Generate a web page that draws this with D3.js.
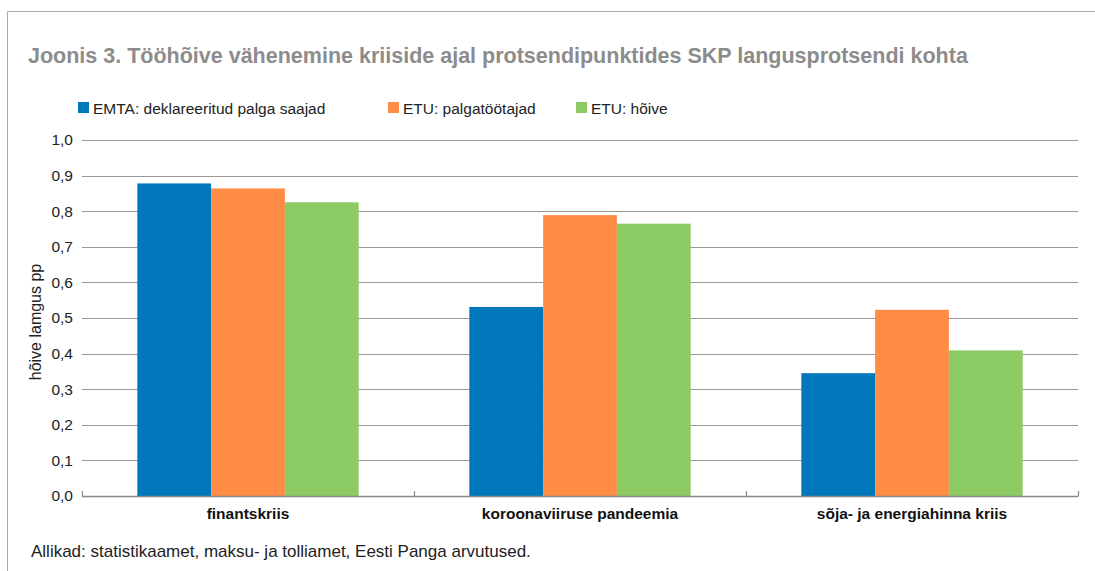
<!DOCTYPE html>
<html><head><meta charset="utf-8">
<script src="https://cdn.jsdelivr.net/npm/d3@7"></script>
<style>
body{margin:0;background:#fff;}
svg{display:block;font-family:"Liberation Sans",Arial,Helvetica,sans-serif;}
</style></head>
<body>
<script>
const categories = ["finantskriis", "koroonaviiruse pandeemia", "sõja- ja energiahinna kriis"];
const seriesNames = ["EMTA: deklareeritud palga saajad", "ETU: palgatöötajad", "ETU: hõive"];
const seriesColors = ["#0077bb", "#ff8c45", "#8ccb63"];
const emta = [0.878, 0.531, 0.345];
const etuPalga = [0.864, 0.789, 0.523];
const etuHoive = [0.825, 0.765, 0.409];
const yTicks = [0, 0.1, 0.2, 0.3, 0.4, 0.5, 0.6, 0.7, 0.8, 0.9, 1.0];
const title = "Joonis 3. Tööhõive vähenemine kriiside ajal protsendipunktides SKP langusprotsendi kohta";
const yTitle = "hõive lamgus pp";
const source = "Allikad: statistikaamet, maksu- ja tolliamet, Eesti Panga arvutused.";

const W = 1095, H = 571;
const svg = d3.select("body").append("svg").attr("width", W).attr("height", H);

// frame
svg.append("path").attr("d", `M7.5,${H}V11.5H${W}`).attr("fill", "none").attr("stroke", "#aaa").attr("stroke-width", 1);

svg.append("text").attr("x", 28).attr("y", 63).attr("fill", "#8c8c8c")
  .attr("font-size", "21.5px").attr("font-weight", "bold").text(title);

const m = {left: 82, right: 1078, top: 140, bottom: 496};
const x0 = d3.scaleBand().domain(categories).range([m.left, m.right]).paddingInner(0).paddingOuter(0);
const x1 = d3.scaleBand().domain(d3.range(3)).range([0, x0.bandwidth()]).paddingInner(0).paddingOuter(0.75);
const y = d3.scaleLinear().domain([0, 1]).range([m.bottom, m.top]);

// grid
svg.append("g").selectAll("line").data(yTicks.filter(d => d > 0)).join("line")
  .attr("x1", m.left).attr("x2", m.right)
  .attr("y1", d => Math.round(y(d)) + 0.5).attr("y2", d => Math.round(y(d)) + 0.5)
  .attr("stroke", "#999").attr("stroke-width", 1.2);

// y tick labels
svg.append("g").selectAll("text").data(yTicks).join("text")
  .attr("x", 73).attr("y", d => y(d)).attr("dy", "0.35em").attr("text-anchor", "end")
  .attr("font-size", "15.5px").attr("fill", "#222")
  .text(d => d3.format(".1f")(d).replace(".", ","));

// bars
const series = [emta, etuPalga, etuHoive];
const g = svg.append("g");
categories.forEach((c, ci) => {
  g.selectAll(null).data(series.map((s, si) => ({si, v: s[ci]}))).join("rect")
    .attr("x", d => x0(c) + x1(d.si)).attr("width", x1.bandwidth())
    .attr("y", d => y(d.v)).attr("height", d => y(0) - y(d.v))
    .attr("fill", d => seriesColors[d.si]);
});

// x axis
const ax = svg.append("g").attr("transform", `translate(0,${m.bottom})`)
  .call(d3.axisBottom(x0).tickSize(0).tickFormat(""));
ax.select(".domain").remove();
svg.append("line").attr("x1", m.left).attr("x2", m.right).attr("y1", m.bottom + 0.5).attr("y2", m.bottom + 0.5)
  .attr("stroke", "#888").attr("stroke-width", 1.5);
const bounds = categories.map(c => x0(c)).concat([m.right]);
svg.append("g").selectAll("line").data(bounds).join("line")
  .attr("x1", d => Math.round(d) + 0.5).attr("x2", d => Math.round(d) + 0.5)
  .attr("y1", m.bottom - 5).attr("y2", m.bottom + 0.5)
  .attr("stroke", "#888").attr("stroke-width", 1.2);
svg.append("g").selectAll("text").data(categories).join("text")
  .attr("x", d => x0(d) + x0.bandwidth() / 2).attr("y", 519).attr("text-anchor", "middle")
  .attr("font-size", "15.5px").attr("font-weight", "bold").attr("fill", "#111").text(d => d);

// y title
svg.append("text").attr("transform", `translate(41,${(m.top + m.bottom) / 2 + 4}) rotate(-90)`)
  .attr("text-anchor", "middle").attr("font-size", "16px").attr("fill", "#222").text(yTitle);

// legend
const legX = [78, 388, 576];
const leg = svg.append("g").selectAll("g").data(seriesNames).join("g")
  .attr("transform", (d, i) => `translate(${legX[i]},102)`);
leg.append("rect").attr("width", 11).attr("height", 11).attr("fill", (d, i) => seriesColors[i]);
leg.append("text").attr("x", 15).attr("y", 11.5).attr("font-size", "15.5px").attr("fill", "#222").text(d => d);

svg.append("text").attr("x", 31).attr("y", 557).attr("font-size", "17px").attr("fill", "#222").text(source);
</script>
</body></html>
